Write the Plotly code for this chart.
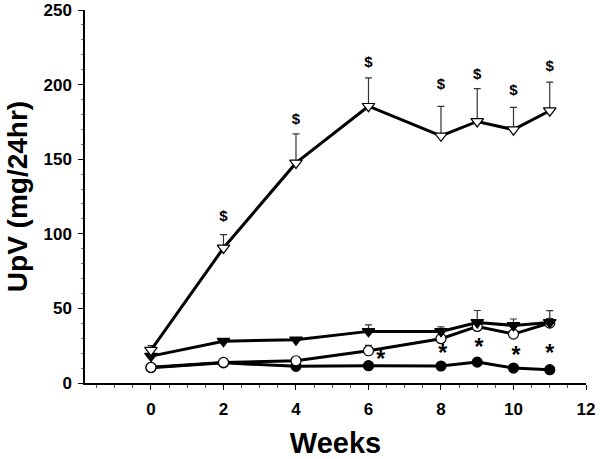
import plotly.graph_objects as go

weeks = [0, 2, 4, 6, 8, 9, 10, 11]

# open down-triangle series
open_tri = [22, 90.5, 147.5, 185.5, 165.7, 175.3, 169.8, 182.5]
open_tri_err = [3, 9, 19.5, 19, 19.7, 22, 15, 19.2]

# filled down-triangle series
fill_tri = [18, 28, 29, 34.6, 34.6, 40.6, 38.6, 40.6]
fill_tri_err = [2, 1.5, 1.5, 4.4, 3, 8, 4.3, 7.9]

# open circle series
open_circ = [10.5, 13.8, 14.9, 21.6, 29.7, 37.9, 32.8, 40.2]
open_circ_err = [0.5, 0.5, 1, 3.6, 2, 4, 2, 3]

# filled circle series
fill_circ = [10.3, 13.5, 11.2, 11.6, 11.4, 14.0, 10.0, 8.9]
fill_circ_err = [0, 0, 0, 0, 0, 0, 0, 0]

# significance markers
dollar_weeks = [2, 4, 6, 8, 9, 10, 11]
dollar_y = [110.8, 175.8, 214, 199.3, 206.6, 195.8, 211.8]
star_weeks = [6.34, 8.05, 9.05, 10.07, 11.0]
star_y = [14.5, 18.5, 22.5, 17.5, 18.5]

x_ticks = [0, 2, 4, 6, 8, 10, 12]
y_ticks = [0, 50, 100, 150, 200, 250]

font_bold = "Liberation Sans"

fig = go.Figure()

def add_series(y, err, symbol, fill):
    fig.add_trace(go.Scatter(
        x=weeks, y=y, mode="lines+markers",
        line=dict(color="black", width=3),
        marker=dict(symbol=symbol, size=10 if "circle" in symbol else 11,
                    color="black" if fill else "white",
                    line=dict(color="black", width=1.2)),
        error_y=dict(type="data", symmetric=False, array=err,
                     arrayminus=[0] * len(err), color="#333333",
                     thickness=1.2, width=3.5),
        showlegend=False, cliponaxis=False,
    ))

add_series(fill_circ, fill_circ_err, "circle", True)
add_series(open_circ, open_circ_err, "circle", False)
add_series(fill_tri, fill_tri_err, "triangle-down", True)
add_series(open_tri, open_tri_err, "triangle-down", False)

fig.add_trace(go.Scatter(
    x=dollar_weeks, y=dollar_y, mode="text", text=["<b>$</b>"] * len(dollar_weeks),
    textfont=dict(family=font_bold, size=15, color="black"),
    showlegend=False, cliponaxis=False,
))
fig.add_trace(go.Scatter(
    x=star_weeks, y=star_y, mode="text", text=["<b>*</b>"] * len(star_weeks),
    textfont=dict(family=font_bold, size=23, color="black"),
    showlegend=False, cliponaxis=False,
))

fig.update_layout(
    width=600, height=459,
    margin=dict(l=85, r=14, t=10, b=76, autoexpand=False),
    paper_bgcolor="white", plot_bgcolor="white",
    font=dict(family=font_bold, color="black"),
)
fig.update_xaxes(
    range=[-1.82, 12], tickvals=x_ticks, ticktext=[f"<b>{v}</b>" for v in x_ticks],
    tickfont=dict(size=17, family=font_bold), automargin=False,
    ticklabelstandoff=5, ticklabeloverflow="allow",
    showline=True, linecolor="black", linewidth=1.5,
    ticks="outside", ticklen=5, tickcolor="black", tickwidth=1,
    minor=dict(ticks="outside", ticklen=3, dtick=0.5, tickcolor="#555555"),
    showgrid=False, zeroline=False,
    title=dict(text="<b>Weeks</b>", font=dict(size=29, family=font_bold), standoff=16),
)
fig.update_yaxes(
    range=[0, 250], tickvals=y_ticks, ticktext=[f"<b>{v}</b>" for v in y_ticks],
    tickfont=dict(size=17, family=font_bold), automargin=False,
    ticklabelstandoff=3, ticklabeloverflow="allow",
    showline=True, linecolor="black", linewidth=1.5,
    ticks="outside", ticklen=5, tickcolor="black", tickwidth=1,
    minor=dict(ticks="outside", ticklen=2, dtick=10, tickcolor="#777777"),
    showgrid=False, zeroline=False,
    title=dict(text="<b>UpV (mg/24hr)</b>", font=dict(size=28, family=font_bold), standoff=8),
)

fig.write_html("out.html", config={"displayModeBar": False},
               post_script="document.body.style.margin='0';")
